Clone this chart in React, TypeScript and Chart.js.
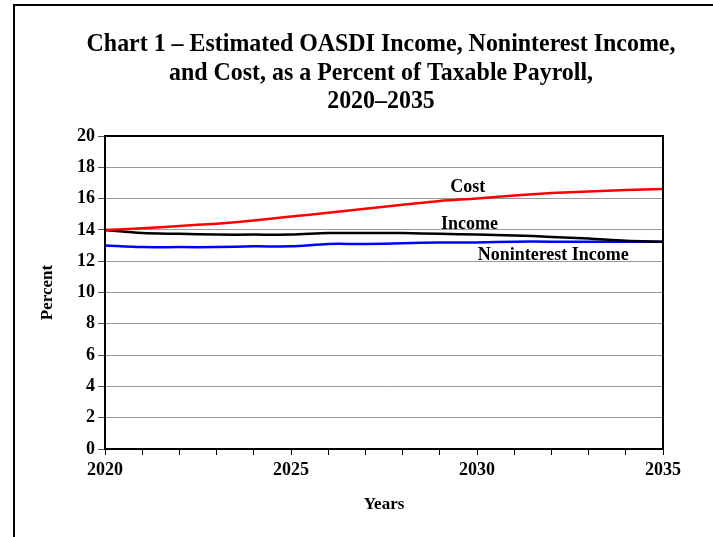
import React, { useEffect, useRef } from "react";
import { Chart, registerables } from "chart.js";

Chart.register(...registerables);

const years = [2020, 2021, 2022, 2023, 2024, 2025, 2026, 2027, 2028, 2029, 2030, 2031, 2032, 2033, 2034, 2035];
const costValues = [14.0, 14.1, 14.25, 14.4, 14.6, 14.85, 15.1, 15.35, 15.6, 15.85, 16.0, 16.2, 16.35, 16.45, 16.55, 16.62];
const incomeValues = [14.0, 13.8, 13.75, 13.7, 13.7, 13.7, 13.8, 13.8, 13.8, 13.75, 13.7, 13.65, 13.55, 13.45, 13.3, 13.25];
const nonInterestValues = [13.0, 12.9, 12.9, 12.9, 12.95, 12.95, 13.1, 13.1, 13.15, 13.2, 13.2, 13.25, 13.25, 13.25, 13.25, 13.25];
const titleLines = [
  "Chart 1 \u2013 Estimated OASDI Income, Noninterest Income,",
  "and Cost, as a Percent of Taxable Payroll,",
  "2020\u20132035",
];
const seriesLabels = ["Cost", "Income", "Noninterest Income"];
const labelAnchors = [
  { x: 2029.75, y: 16.7 },
  { x: 2029.8, y: 14.35 },
  { x: 2032.05, y: 12.4 },
];

const FONT = "'Liberation Serif', 'Times New Roman', serif";

const titlePlugin = {
  id: "condensedTitle",
  afterDraw(chart: any) {
    const { ctx } = chart;
    ctx.save();
    ctx.fillStyle = "#000";
    ctx.font = `bold 26px ${FONT}`;
    ctx.textAlign = "center";
    ctx.textBaseline = "alphabetic";
    const ys = [51, 79.5, 108];
    titleLines.forEach((t, i) => {
      ctx.save();
      ctx.translate(381, ys[i]);
      ctx.scale(0.92, 1);
      ctx.fillText(t, 0, 0);
      ctx.restore();
    });
    ctx.restore();
  },
};

const framePlugin = {
  id: "frame",
  afterDatasetsDraw(chart: any) {
    const { ctx, chartArea } = chart;
    ctx.save();
    ctx.strokeStyle = "#000";
    ctx.lineWidth = 2;
    ctx.strokeRect(chartArea.left, chartArea.top, chartArea.right - chartArea.left, chartArea.bottom - chartArea.top);
    ctx.restore();
  },
};

const labelPlugin = {
  id: "seriesLabels",
  afterDatasetsDraw(chart: any) {
    const { ctx, scales } = chart;
    ctx.save();
    ctx.fillStyle = "#000";
    ctx.font = `bold 18px ${FONT}`;
    ctx.textAlign = "center";
    ctx.textBaseline = "middle";
    seriesLabels.forEach((t, i) => {
      const a = labelAnchors[i];
      ctx.fillText(t, scales.x.getPixelForValue(a.x), scales.y.getPixelForValue(a.y));
    });
    ctx.restore();
  },
};

export default function App() {
  const ref = useRef<HTMLCanvasElement>(null);
  useEffect(() => {
    if (!ref.current) return;
    const mk = (vals: number[]) => years.map((y, i) => ({ x: y, y: vals[i] }));
    const chart = new Chart(ref.current, {
      type: "line",
      data: {
        datasets: [
          { label: "Cost", data: mk(costValues), borderColor: "#ff0000", borderWidth: 2.5, pointRadius: 0, tension: 0.3, fill: false },
          { label: "Income", data: mk(incomeValues), borderColor: "#000000", borderWidth: 2.5, pointRadius: 0, tension: 0.3, fill: false },
          { label: "Noninterest Income", data: mk(nonInterestValues), borderColor: "#0000ff", borderWidth: 2.5, pointRadius: 0, tension: 0.3, fill: false },
        ],
      },
      options: {
        responsive: false,
        animation: false,
        layout: { padding: { left: 37, right: 50, top: 136, bottom: 0 } },
        plugins: {
          legend: { display: false },
          tooltip: { enabled: false },
          title: { display: false },
        },
        scales: {
          x: {
            type: "linear",
            min: 2020,
            max: 2035,
            afterFit: (s: any) => { s.height = 88; },
            grid: { drawOnChartArea: false, drawTicks: true, tickLength: 6, color: "#000", tickColor: "#000" },
            border: { color: "#000", width: 2 },
            ticks: {
              stepSize: 1,
              autoSkip: false,
              maxRotation: 0,
              padding: 5,
              color: "#000",
              font: { family: FONT, size: 18, weight: "bold" },
              callback: (v: any) => (Number(v) % 5 === 0 ? String(v) : ""),
            },
            title: {
              display: true,
              text: "Years",
              color: "#000",
              font: { family: FONT, size: 17, weight: "bold" },
              padding: { top: 0, bottom: 22 },
            },
          },
          y: {
            min: 0,
            max: 20,
            afterFit: (s: any) => { s.width = 68; },
            grid: { color: "#9a9a9a", lineWidth: 1, tickLength: 7, tickColor: "#555" },
            border: { color: "#000", width: 2 },
            ticks: {
              stepSize: 2,
              padding: 3,
              color: "#000",
              font: { family: FONT, size: 18, weight: "bold" },
            },
            title: {
              display: true,
              text: "Percent",
              color: "#000",
              font: { family: FONT, size: 17, weight: "bold" },
              padding: { top: 0, bottom: 0 },
            },
          },
        },
      } as any,
      plugins: [framePlugin, labelPlugin, titlePlugin],
    });
    return () => chart.destroy();
  }, []);

  return (
    <div style={{ position: "fixed", left: 0, top: 0, width: 713, height: 537, background: "#fff" }}>
      <div
        style={{
          position: "absolute",
          left: 13,
          top: 4,
          width: 720,
          height: 560,
          borderLeft: "2px solid #000",
          borderTop: "2px solid #000",
          boxSizing: "border-box",
        }}
      />
      <canvas ref={ref} width={713} height={537} style={{ position: "absolute", left: 0, top: 0 }} />
    </div>
  );
}
